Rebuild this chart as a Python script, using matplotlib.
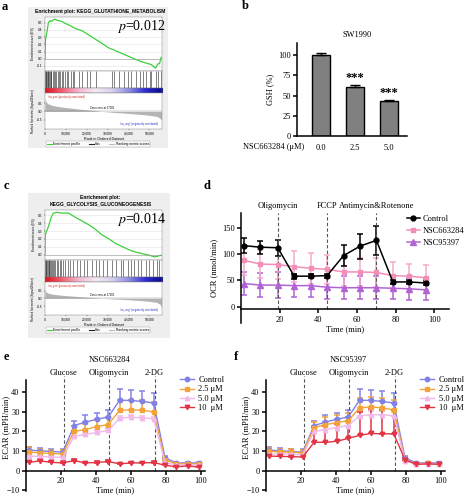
import numpy as np
import matplotlib.pyplot as plt
from matplotlib.colors import LinearSegmentedColormap
from matplotlib.lines import Line2D
from matplotlib.patches import Rectangle
import matplotlib.transforms as mtransforms

plt.rcParams['font.family'] = 'Liberation Serif'
plt.rcParams['mathtext.fontset'] = 'stix'

# ---------------- data ----------------
# panel a: GSEA glutathione metabolism
es_rank_a = [0, 200, 500, 1000, 1600, 2400, 3200, 4000, 4800, 6100, 8100, 9700, 12100, 14500,
             17700, 21000, 24200, 27400, 30600, 33900, 37100, 40300, 43500, 46000, 48400,
             50800, 52900, 54000, 54800, 55600]
es_a = [0.0, 0.26, 0.31, 0.38, 0.50, 0.53, 0.52, 0.54, 0.55, 0.53, 0.52, 0.49, 0.46, 0.42,
        0.39, 0.33, 0.27, 0.21, 0.15, 0.11, 0.07, 0.03, -0.01, -0.04, -0.06,
        -0.08, -0.13, -0.07, -0.07, 0.02]
hits_a = [150, 400, 650, 900, 1200, 1500, 1800, 2300, 2700, 3100, 3600, 4200, 4800, 5300, 6000,
          6600, 7300, 8000, 8800, 9600, 10300, 11000, 12500, 13300, 14000, 16100, 17800, 20300,
          21700, 24200, 32000, 33200, 35400, 37800, 39600, 41200, 43400, 45300, 46900, 48500,
          50100, 50900, 53100, 54300, 55400]
metric_rank_a = [0, 500, 1500, 3500, 7000, 12000, 18000, 24000, 27200, 32000, 38000, 44000,
                 50000, 53500, 55000, 55800]
metric_a = [0.75, 0.58, 0.45, 0.36, 0.28, 0.2, 0.12, 0.05, 0.0, -0.05, -0.1, -0.16, -0.23,
            -0.3, -0.4, -0.52]

# panel c: GSEA glycolysis / gluconeogenesis
es_rank_c = [0, 100, 500, 1100, 1900, 2900, 4000, 5600, 8100, 11300, 13700, 17700, 21000,
             24200, 27400, 30600, 33900, 37100, 40300, 43500, 46800, 50000, 52400, 54000, 55600]
es_c = [0.0, 0.25, 0.28, 0.32, 0.38, 0.47, 0.53, 0.54, 0.53, 0.53, 0.49, 0.43, 0.38, 0.32,
        0.25, 0.2, 0.14, 0.1, 0.06, 0.03, 0.01, -0.01, -0.03, -0.02, -0.01]
hits_c = [100, 300, 600, 900, 1300, 1700, 2100, 2500, 3000, 3400, 3900, 4500, 5000, 5600, 6300,
          7000, 7800, 8600, 9500, 11000, 12200, 13300, 15300, 16900, 18500, 20200, 22600,
          24200, 25800, 27700, 29800, 32200, 33900, 36300, 37400, 39500, 41100, 42700, 44300,
          45900, 48400, 50000, 51900, 53500, 54800, 55900]
metric_rank_c = [0, 500, 1500, 3500, 7000, 12000, 18000, 24000, 27200, 32000, 38000, 44000,
                 50000, 53500, 55000, 55800]
metric_c = [0.55, 0.42, 0.33, 0.27, 0.21, 0.15, 0.09, 0.04, 0.0, -0.04, -0.08, -0.13, -0.2,
            -0.27, -0.38, -0.55]

# panel b: GSH
doses = ['0.0', '2.5', '5.0']
gsh = [100, 60, 43]
gsh_err = [3, 3, 1.5]
gsh_sig = ['', '***', '***']

# panel d: OCR
t_ocr = [1.5, 10, 19, 27.5, 36, 44.5, 53, 61.5, 70, 78.5, 87, 95.5]
ocr_ctrl = [116, 113, 112, 58, 58, 59, 97, 115, 126, 47, 47, 45]
ocr_ctrl_err = [14, 12, 15, 5, 4, 4, 20, 24, 27, 3, 3, 3]
ocr_663 = [88, 81, 80, 76, 73, 71, 66, 66, 65, 59, 58, 55]
ocr_663_err = [28, 27, 27, 30, 29, 28, 27, 27, 27, 25, 24, 24]
ocr_953 = [44, 41, 41, 40, 40, 37, 36, 36, 36, 35, 34, 32]
ocr_953_err = [22, 23, 24, 22, 22, 22, 22, 22, 22, 21, 21, 20]
ocr_inj = [19, 44.5, 70]
ocr_inj_lab = ['Oligomycin', 'FCCP', 'Antimycin&Rotenone']

# panels e, f: ECAR
t_ecar = [1.5, 8, 14.5, 21, 27.5, 34, 40.5, 47, 53.5, 60, 66.5, 73, 79.5, 86, 92.5, 99]
ecar_ctrl = [10.5, 10.2, 9.8, 9.5, 23.0, 24.8, 26.2, 27.4, 35.9, 35.8, 35.3, 34.5, 6.5, 4.0, 4.0, 4.0]
ecar_ctrl_err = [1.5, 1.5, 1.5, 1.5, 2.5, 3.5, 3.2, 3.3, 5.5, 5.5, 5.2, 5.0, 1.0, 0.6, 0.6, 0.6]
e_25 = [9.5, 9.2, 8.8, 8.5, 20.0, 21.0, 22.5, 23.5, 30.8, 31.0, 30.8, 30.0, 5.5, 3.5, 3.5, 3.5]
e_25_err = [2.5, 2, 2, 2, 3, 3, 3.5, 3.5, 5, 5, 5, 5, 1, 0.5, 0.5, 0.5]
e_50 = [7.5, 7.3, 7.0, 6.8, 17.5, 18.5, 19.5, 20.5, 26.8, 27.2, 27.0, 26.5, 4.0, 3.0, 3.0, 3.0]
e_50_err = [1, 1, 1, 1, 1.5, 1.5, 1.5, 1.5, 1, 1, 1, 1, 0.5, 0.5, 0.5, 0.5]
e_10 = [4.3, 5.0, 4.3, 4.0, 5.2, 4.0, 4.2, 4.7, 3.5, 4.0, 4.0, 4.2, 2.8, 2.0, 2.5, 1.8]
e_10_err = [0.8, 0.8, 0.8, 0.8, 0.8, 0.6, 0.6, 0.8, 0.6, 0.6, 0.6, 0.6, 0.5, 0.5, 0.5, 0.5]
f_25 = [10.0, 9.5, 9.5, 9.0, 22.0, 23.5, 24.5, 25.5, 32.0, 32.5, 32.0, 31.0, 5.5, 3.5, 3.8, 3.5]
f_25_err = [1.5, 1.5, 1.5, 1.5, 3, 4, 4, 4, 5, 5, 5, 5, 1, 0.5, 0.5, 0.5]
f_50 = [8.5, 8.5, 8.5, 8.0, 20.0, 21.0, 22.0, 23.0, 28.0, 28.5, 28.5, 28.0, 5.0, 3.5, 3.5, 3.5]
f_50_err = [1, 1, 1, 1, 2, 2, 2, 2, 2, 2, 2, 2, 0.5, 0.5, 0.5, 0.5]
f_10 = [7.5, 7.3, 7.2, 7.0, 14.5, 14.5, 15.0, 16.5, 18.0, 19.0, 18.8, 18.8, 5.5, 3.3, 3.5, 3.3]
f_10_err = [1, 1, 1, 1, 8, 8.5, 9, 9, 12, 12.5, 12, 12, 1, 0.5, 0.5, 0.5]
ecar_inj = [21.5, 47.5, 73.5]
ecar_inj_lab = ['Glucose', 'Oligomycin', '2-DG']
ecar_lab = ['Control', '2.5 μM', '5.0 μM', '10  μM']

# ---------------- figure ----------------
W, H = 465, 500
FS = 6
fig = plt.figure(figsize=(W / 100, H / 100), dpi=100)


def px_axes(x0, y0, x1, y1):
    return fig.add_axes([x0 / W, 1 - y1 / H, (x1 - x0) / W, (y1 - y0) / H])


def px_text(x, y, s, **kw):
    fig.text(x / W, 1 - y / H, s, **kw)


sans = 'Liberation Sans'
gsea_cmap = LinearSegmentedColormap.from_list(
    'gsea', ['#e0101e', '#f06070', '#f2b8d0', '#f4eaf4', '#d6d0ee', '#8c8ce0', '#2a2ad0', '#0a0a80'])


def gsea_panel(bg, ys, title, title_y, pval, ranks, es, es_lim, es_ticks,
               hits, m_rank, metric, m_lim):
    fig.patches.append(Rectangle((bg[0] / W, 1 - bg[3] / H), (bg[2] - bg[0]) / W,
                                 (bg[3] - bg[1]) / H, transform=fig.transFigure,
                                 facecolor='#eeeeee', edgecolor='none', zorder=-1))
    xa, xb = 45, 162
    px_text((xa + xb) / 2 - 3, title_y, title, ha='center', va='center', fontsize=3.6,
            family=sans, weight='bold', linespacing=1.3)

    ax = px_axes(xa, ys[0], xb, ys[1])
    ax.plot(ranks, es, color='#3ccf3c', lw=0.9)
    ax.axhline(0, color='#999999', lw=0.4)
    ax.set_xlim(0, 56000)
    ax.set_ylim(*es_lim)
    ax.set_yticks(es_ticks)
    ax.set_yticklabels(['%.1f' % v for v in es_ticks], fontsize=2.3, family=sans)
    ax.set_xticks([])
    ax.grid(axis='y', color='#e2e2e2', lw=0.4)
    ax.set_ylabel('Enrichment score (ES)', fontsize=2.3, family=sans, labelpad=1)
    ax.tick_params(length=1, width=0.3, pad=1)
    ax.text(1.03, 0.82, pval, transform=ax.transAxes, ha='right', va='center', fontsize=10)

    axh = px_axes(xa, ys[1], xb, ys[2])
    axh.vlines(hits, 0, 1, color='#222222', lw=0.4)
    axh.set_xlim(0, 56000)
    axh.set_ylim(0, 1)
    axh.set_xticks([])
    axh.set_yticks([])

    axc = px_axes(xa, ys[2], xb, ys[3])
    axc.imshow(np.linspace(0, 1, 256)[None, :], cmap=gsea_cmap, aspect='auto',
               extent=[0, 56000, 0, 1])
    axc.set_xticks([])
    axc.set_yticks([])

    axr = px_axes(xa, ys[3], xb, ys[4])
    axr.fill_between(m_rank, metric, 0, color='#b4b4b4', lw=0)
    axr.axhline(0, color='#888888', lw=0.3)
    axr.set_xlim(0, 56000)
    axr.set_ylim(*m_lim)
    axr.set_yticks([0.5, 0.0, -0.5])
    axr.set_yticklabels(['0.5', '0.0', '-0.5'], fontsize=2.3, family=sans)
    axr.set_xticks([0, 10000, 20000, 30000, 40000, 50000])
    axr.set_xticklabels(['0', '10,000', '20,000', '30,000', '40,000', '50,000'],
                        fontsize=2.3, family=sans)
    axr.tick_params(length=1, width=0.3, pad=1)
    axr.set_xlabel('Rank in Ordered Dataset', fontsize=2.6, family=sans, labelpad=1)
    axr.set_ylabel('Ranked list metric (Signal2Noise)', fontsize=2.1, family=sans, labelpad=1)
    axr.text(27200, 0.12, 'Zero cross at 27201', fontsize=2, family=sans, ha='center')
    axr.text(1500, m_lim[1] - 0.12, "'na_pos' (positively correlated)", fontsize=2,
             family=sans, color='#d02020', va='top')
    axr.text(54000, m_lim[0] + 0.25, "'na_neg' (negatively correlated)", fontsize=2,
             family=sans, color='#3030c0', ha='right')
    for a in (ax, axh, axc, axr):
        for s in a.spines.values():
            s.set_linewidth(0.3)
            s.set_color('#777777')

    handles = [Line2D([], [], color='#3ccf3c', lw=0.8),
               Line2D([], [], color='#222222', lw=0.8),
               Line2D([], [], color='#bbbbbb', lw=0.8)]
    fig.legend(handles, ['Enrichment profile', 'Hits', 'Ranking metric scores'],
               loc='center', bbox_to_anchor=(98 / W, 1 - (ys[4] + 15) / H), ncol=3,
               prop={'family': sans, 'size': 2.4}, frameon=True, fancybox=False,
               edgecolor='#888888', handlelength=1.5, columnspacing=2.5,
               borderpad=0.4, handletextpad=0.4).get_frame().set_linewidth(0.3)


gsea_panel((28, 7, 168, 148), [17, 71, 88, 93, 129],
           'Enrichment plot: KEGG_GLUTATHIONE_METABOLISM', 12, r'$p$=0.012',
           es_rank_a, es_a, (-0.17, 0.58), [0.5, 0.4, 0.3, 0.2, 0.1, 0.0, -0.1],
           hits_a, metric_rank_a, metric_a, (-1.05, 1.1))
gsea_panel((28, 193, 170, 338), [210, 260, 277, 282, 315],
           'Enrichment plot:\nKEGG_GLYCOLYSIS_GLUCONEOGENESIS', 201, r'$p$=0.014',
           es_rank_c, es_c, (-0.07, 0.57), [0.5, 0.4, 0.3, 0.2, 0.1, 0.0],
           hits_c, metric_rank_c, metric_c, (-1.08, 1.05))


def prism_axes(ax):
    for s in ['top', 'right']:
        ax.spines[s].set_visible(False)
    for s in ['left', 'bottom']:
        ax.spines[s].set_linewidth(1.1)
    ax.tick_params(labelsize=FS, length=3, width=1.1, pad=1.5)
    ax.patch.set_alpha(0)


# ---------------- panel b ----------------
ax_b = px_axes(297, 43, 407, 136)
xb_pos = np.arange(len(doses))
ax_b.bar(xb_pos, gsh, width=0.53, color='#808080', edgecolor='black', lw=1)
ax_b.errorbar(xb_pos, gsh, yerr=[np.zeros(len(gsh)), gsh_err], fmt='none', ecolor='black',
              elinewidth=1, capsize=3.5, capthick=1)
for xp, v, e, s in zip(xb_pos, gsh, gsh_err, gsh_sig):
    ax_b.text(xp, v + e + 1, s, ha='center', va='bottom', fontsize=9, weight='bold')
ax_b.set_xlim(-0.7, 2.53)
ax_b.set_ylim(0, 115)
ax_b.set_yticks([0, 25, 50, 75, 100])
ax_b.set_xticks(xb_pos)
ax_b.set_xticklabels(doses)
prism_axes(ax_b)
ax_b.tick_params(axis='x', length=0, pad=6)
ax_b.set_ylabel('GSH (%)', fontsize=FS, labelpad=3)
px_text(357, 35, 'SW1990', ha='center', va='center', fontsize=FS)
px_text(243, 147, 'NSC663284 (μM)', ha='left', va='center', fontsize=FS)

# ---------------- panel d ----------------
ax_d = px_axes(241, 213, 449, 323)
ax_d.errorbar(t_ocr, ocr_953, yerr=ocr_953_err, color='#b263d3', marker='^', ms=4, lw=1.1,
              elinewidth=1.1, capsize=2.5, capthick=1.1, ecolor='#b263d3')
ax_d.errorbar(t_ocr, ocr_663, yerr=ocr_663_err, color='#f28fb8', marker='s', ms=3.5, lw=1.1,
              elinewidth=1.1, capsize=2.5, capthick=1.1, ecolor='#f6aacb')
ax_d.errorbar(t_ocr, ocr_ctrl, yerr=ocr_ctrl_err, color='black', marker='o', ms=3.5, lw=1.1,
              elinewidth=1.1, capsize=2.5, capthick=1.1)
ax_d.set_xlim(0, 107.5)
ax_d.set_ylim(-31, 178)
ax_d.spines['bottom'].set_position(('data', -5))
ax_d.set_yticks([0, 50, 100, 150])
ax_d.set_xticks([20, 40, 60, 80, 100])
prism_axes(ax_d)
ax_d.vlines(ocr_inj, -5, 178, colors='#555555', linestyles=(0, (3, 2)), lw=0.8)
trans_d = mtransforms.blended_transform_factory(ax_d.transData, ax_d.transAxes)
for xi, lab in zip(ocr_inj, ocr_inj_lab):
    ax_d.text(xi, 1.065, lab, transform=trans_d, ha='center', va='center', fontsize=FS)
ax_d.set_xlabel('Time (min)', fontsize=FS, labelpad=1)
ax_d.set_ylabel('OCR (nmol/min)', fontsize=FS, labelpad=3)
d_handles = [Line2D([], [], color='black', marker='o', ms=3.5, lw=1.1),
             Line2D([], [], color='#f28fb8', marker='s', ms=3.5, lw=1.1),
             Line2D([], [], color='#b263d3', marker='^', ms=4, lw=1.1)]
fig.legend(d_handles, ['Control', 'NSC663284', 'NSC95397'], loc='upper left',
           bbox_to_anchor=(403 / W, 1 - 211 / H), frameon=False, fontsize=FS,
           handlelength=1.5, handletextpad=0.35, labelspacing=0.45, borderpad=0)

# ---------------- panels e, f ----------------
ecar_cols = ['#8282e6', '#f2a43a', '#f2b8ea', '#e23444']
ecar_mk = ['o', 's', '^', 'v']


def ecar_panel(x0, label_x, title, title_x, series, errs):
    ax = px_axes(x0, 380, x0 + 179, 491)
    for y, e, c, m in zip(series, errs, ecar_cols, ecar_mk):
        ax.errorbar(t_ecar, y, yerr=[np.zeros(len(e)), e], color=c, marker=m, ms=3.2, lw=1,
                    elinewidth=1.1, capsize=2.3, capthick=1.1, ecolor=c)
    ax.set_xlim(0, 102.3)
    ax.set_ylim(-10.3, 46.2)
    ax.spines['bottom'].set_position(('data', 0))
    ax.set_yticks([-10, 0, 10, 20, 30, 40])
    ax.set_xticks([20, 40, 60, 80, 100])
    prism_axes(ax)
    ax.vlines(ecar_inj, 0, 48, colors='#555555', linestyles=(0, (3, 2)), lw=0.8, clip_on=False)
    tr = mtransforms.blended_transform_factory(ax.transData, ax.transAxes)
    for xi, lab in zip(ecar_inj, ecar_inj_lab):
        ax.text(xi, 1.063, lab, transform=tr, ha='center', va='center', fontsize=FS)
    ax.set_xlabel('Time (min)', fontsize=FS, labelpad=1)
    px_text(label_x, 427, 'ECAR (mPH/min)', rotation=90, ha='center', va='center', fontsize=FS)
    px_text(title_x, 360, title, ha='center', va='center', fontsize=FS)
    hs = [Line2D([], [], color=c, marker=m, ms=3.2, lw=1) for c, m in zip(ecar_cols, ecar_mk)]
    fig.legend(hs, ecar_lab, loc='upper left', bbox_to_anchor=((x0 + 150) / W, 1 - 372 / H),
               frameon=False, fontsize=FS, handlelength=1.7, handletextpad=0.5,
               labelspacing=0.15, borderpad=0)


ecar_panel(26, 6, 'NSC663284', 110, [ecar_ctrl, e_25, e_50, e_10],
           [ecar_ctrl_err, e_25_err, e_50_err, e_10_err])
ecar_panel(266, 246, 'NSC95397', 348, [ecar_ctrl, f_25, f_50, f_10],
           [ecar_ctrl_err, f_25_err, f_50_err, f_10_err])

# panel letters
for lx, ly, l in [(2, 7, 'a'), (242, 6, 'b'), (4, 186, 'c'), (203, 186, 'd'),
                  (4, 357, 'e'), (234, 357, 'f')]:
    px_text(lx, ly, l, ha='left', va='center', fontsize=9, weight='bold')

fig.savefig('out.png', dpi=100)
